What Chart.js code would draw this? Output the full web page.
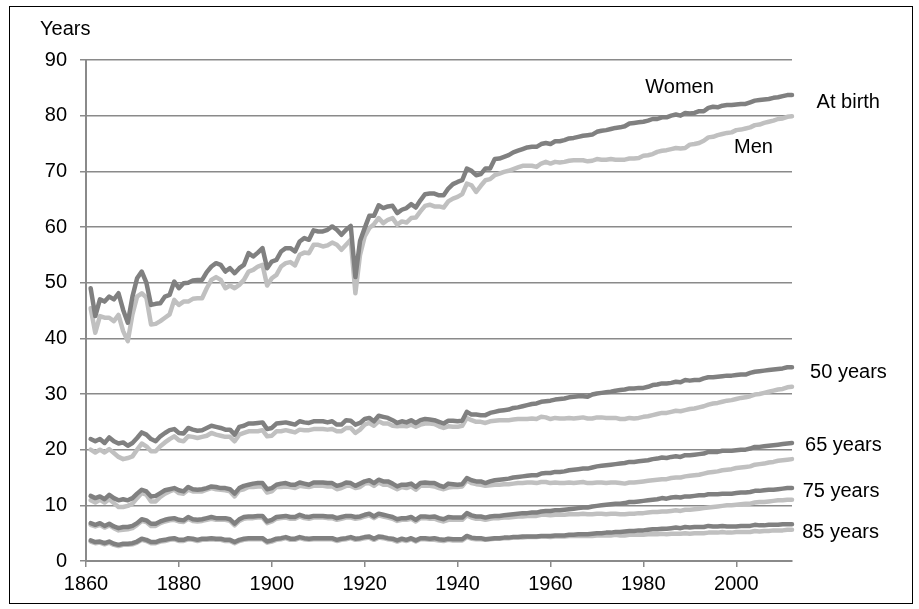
<!DOCTYPE html>
<html>
<head>
<meta charset="utf-8">
<script src="https://cdn.jsdelivr.net/npm/chart.js@4.4.1/dist/chart.umd.min.js"></script>
<style>
  html, body { margin: 0; padding: 0; background: #fff; }
  #wrap { width: 919px; height: 609px; }
</style>
</head>
<body>
<div id="wrap"><canvas id="myChart" width="919" height="609"></canvas></div>
<script>
// life expectancy by age, women / men, 1861-2012

const firstYear = 1861;

const womenBirth = [
  49.0, 44.0, 47.0, 46.6, 47.5, 47.0, 48.1, 45.1, 42.8, 47.5,
  50.8, 52.0, 50.0, 46.0, 46.2, 46.3, 47.5, 47.8, 50.2, 49.0,
  49.9, 50.0, 50.4, 50.5, 50.5, 51.9, 52.9, 53.5, 53.2, 52.0,
  52.6, 51.7, 52.6, 53.2, 55.3, 54.7, 55.4, 56.2, 52.6, 53.8,
  54.1, 55.6, 56.2, 56.2, 55.6, 57.4, 58.0, 57.7, 59.4, 59.2,
  59.2, 59.5, 60.1, 59.5, 58.6, 59.5, 60.2, 51.0, 57.5, 59.8,
  62.0, 62.0, 63.9, 63.4, 63.7, 63.8, 62.5, 63.1, 63.4, 64.1,
  63.5, 64.8, 65.9, 66.0, 66.0, 65.7, 65.7, 66.9, 67.7, 68.1,
  68.4, 70.5, 70.1, 69.3, 69.5, 70.5, 70.5, 72.2, 72.3, 72.6,
  72.9, 73.4, 73.7, 74.0, 74.3, 74.4, 74.4, 74.9, 75.1, 74.9,
  75.4, 75.4, 75.6, 75.9, 76.0, 76.2, 76.4, 76.5, 76.6, 77.1,
  77.3, 77.4, 77.6, 77.8, 77.9, 78.1, 78.6, 78.7, 78.8, 78.9,
  79.1, 79.4, 79.4, 79.7, 79.7, 80.0, 80.2, 80.0, 80.5, 80.4,
  80.5, 80.8, 80.8, 81.4, 81.6, 81.5, 81.8, 81.9, 81.9, 82.0,
  82.1, 82.1, 82.4, 82.7, 82.8, 82.9, 83.0, 83.2, 83.3, 83.5,
  83.7, 83.7
];
const menBirth = [
  45.4, 41.0, 44.0, 43.7, 43.7, 43.1, 44.2, 41.3, 39.5, 44.3,
  47.5, 48.1, 47.3, 42.5, 42.6, 43.1, 43.7, 44.3, 46.9, 46.0,
  46.6, 46.6, 47.1, 47.2, 47.2, 49.0, 50.5, 51.0, 50.5, 49.0,
  49.5, 49.0, 49.6, 50.5, 52.0, 52.3, 52.9, 53.2, 49.5, 50.8,
  51.4, 52.9, 53.5, 53.7, 53.1, 55.0, 55.4, 55.3, 56.8, 56.8,
  56.5, 56.7, 57.2, 56.8, 55.9, 56.8, 57.7, 48.1, 55.0, 58.3,
  59.8, 60.5, 61.6, 60.7, 61.3, 61.6, 60.4, 61.0, 60.8, 61.6,
  61.7, 62.8, 63.8, 64.0, 63.7, 63.7, 63.5, 64.6, 65.1, 65.4,
  65.9, 67.8, 67.5, 66.3, 67.4, 68.4, 68.6, 69.3, 69.6, 69.9,
  70.1, 70.4, 70.7, 71.0, 71.0, 71.0, 70.8, 71.4, 71.7, 71.4,
  71.7, 71.6, 71.7, 71.9, 72.0, 72.0, 72.0, 71.8, 71.9, 72.2,
  72.1, 72.1, 72.2, 72.1, 72.1, 72.1, 72.3, 72.3, 72.4, 72.8,
  72.9, 73.1, 73.5, 73.7, 73.8, 74.0, 74.2, 74.1, 74.2, 74.8,
  74.9, 75.1, 75.5, 76.1, 76.2, 76.5, 76.7, 76.9, 77.0, 77.4,
  77.5, 77.7, 77.9, 78.3, 78.4, 78.7, 78.9, 79.1, 79.4, 79.5,
  79.8, 79.9
];
const women50 = [
  21.9, 21.5, 21.9, 21.2, 22.2, 21.5, 21.1, 21.3, 20.7, 21.2,
  22.1, 23.1, 22.7, 21.9, 21.5, 22.4, 23.0, 23.5, 23.7, 23.0,
  22.9, 23.9, 23.6, 23.4, 23.5, 23.9, 24.3, 24.1, 23.9, 23.6,
  23.6, 22.7, 24.1, 24.3, 24.7, 24.7, 24.8, 24.9, 23.7, 23.9,
  24.7, 24.8, 24.9, 24.7, 24.5, 25.1, 24.9, 24.8, 25.1, 25.1,
  25.1, 24.9, 25.1, 24.5, 24.5, 25.3, 25.2, 24.5, 24.8, 25.5,
  25.7, 25.1, 26.1, 25.9, 25.7, 25.3, 24.8, 25.1, 24.9, 25.3,
  24.8, 25.3, 25.5, 25.4, 25.3, 25.0, 24.7, 25.2, 25.2, 25.1,
  25.2, 26.8, 26.3, 26.3, 26.2, 26.2, 26.6, 26.8, 27.0, 27.1,
  27.2, 27.5, 27.6, 27.8, 28.0, 28.2, 28.3, 28.6, 28.7, 28.8,
  29.0, 29.1, 29.2, 29.4, 29.5, 29.6, 29.6, 29.5, 29.9, 30.1,
  30.2, 30.3, 30.4, 30.6, 30.7, 30.8, 31.0, 31.0, 31.1, 31.1,
  31.3, 31.6, 31.7, 31.9, 31.9, 32.0, 32.2, 32.1, 32.5, 32.4,
  32.5, 32.5, 32.8, 33.0, 33.0, 33.1, 33.2, 33.3, 33.3, 33.4,
  33.5, 33.5, 33.8, 34.0, 34.1, 34.2, 34.3, 34.4, 34.5, 34.6,
  34.8, 34.8
];
const men50 = [
  20.0, 19.5, 20.0, 19.5, 20.1, 19.4, 18.7, 18.3, 18.5, 18.8,
  20.0, 21.1, 20.6, 19.7, 19.7, 20.6, 21.3, 21.9, 22.4, 21.7,
  21.5, 22.4, 22.3, 22.1, 22.3, 22.5, 23.0, 22.7, 22.5, 22.3,
  22.3, 21.5, 22.7, 23.0, 23.3, 23.3, 23.3, 23.5, 22.4, 22.5,
  23.3, 23.3, 23.5, 23.3, 23.1, 23.6, 23.5, 23.5, 23.7, 23.7,
  23.7, 23.6, 23.7, 23.3, 23.3, 23.9, 23.9, 23.0, 23.6, 24.5,
  24.8, 24.3, 25.1, 24.7, 24.7, 24.3, 24.2, 24.3, 24.2, 24.5,
  24.1, 24.5, 24.7, 24.7, 24.6, 24.2, 23.9, 24.2, 24.1, 24.1,
  24.3, 25.7, 25.3, 25.0, 25.0, 24.8, 25.1, 25.2, 25.3, 25.3,
  25.3, 25.4, 25.5, 25.5, 25.5, 25.6, 25.5, 25.9, 25.8, 25.5,
  25.7, 25.6, 25.6, 25.7, 25.6, 25.7, 25.8, 25.6, 25.6, 25.8,
  25.8, 25.7, 25.7, 25.7, 25.5, 25.5, 25.7, 25.6, 25.7, 25.9,
  26.0, 26.2, 26.4, 26.6, 26.6, 26.8, 27.0, 26.9, 27.1, 27.3,
  27.4, 27.6, 27.8, 28.1, 28.3, 28.4, 28.6, 28.8, 28.9, 29.1,
  29.3, 29.4, 29.6, 29.9, 30.0, 30.2, 30.4, 30.6, 30.8, 30.9,
  31.2, 31.3
];
const women65 = [
  11.7, 11.3, 11.6, 11.1, 11.9, 11.3, 10.9, 11.1, 10.9, 11.3,
  12.1, 12.8, 12.5, 11.6, 11.7, 12.2, 12.7, 12.9, 13.1, 12.7,
  12.5, 13.3, 12.9, 12.8, 12.9, 13.1, 13.4, 13.3, 13.1, 13.1,
  12.9, 12.1, 13.1, 13.5, 13.7, 13.9, 14.0, 14.0, 12.9, 13.1,
  13.7, 13.9, 14.0, 13.7, 13.7, 14.1, 13.9, 13.7, 14.1, 14.1,
  14.1, 14.0, 14.0, 13.5, 13.7, 14.1, 14.0, 13.5, 13.9, 14.3,
  14.5, 14.0, 14.6, 14.3, 14.3, 13.9, 13.4, 13.7, 13.7, 13.9,
  13.3, 14.0, 14.1, 14.0, 14.0, 13.6, 13.3, 13.9, 13.8, 13.7,
  13.8, 14.9, 14.5, 14.3, 14.3, 14.0, 14.3, 14.5, 14.6, 14.7,
  14.8, 15.0, 15.1, 15.2, 15.3, 15.4, 15.4, 15.7, 15.8, 15.8,
  16.0, 16.0, 16.1, 16.3, 16.4, 16.5, 16.6, 16.6, 16.8, 17.0,
  17.1, 17.2, 17.3, 17.4, 17.5, 17.6, 17.8, 17.8, 17.9, 18.0,
  18.1, 18.3, 18.4, 18.6, 18.5, 18.7, 18.8, 18.7, 19.0, 19.0,
  19.1, 19.2, 19.3, 19.6, 19.6, 19.6, 19.8, 19.8, 19.8, 19.9,
  20.0, 20.0, 20.2, 20.5, 20.5, 20.6, 20.7, 20.8, 20.9, 21.0,
  21.1, 21.2
];
const men65 = [
  10.9, 10.5, 11.0, 10.5, 11.1, 10.4, 9.7, 9.7, 9.9, 10.3,
  11.3, 12.2, 11.9, 10.7, 10.7, 11.5, 12.1, 12.5, 12.8, 12.2,
  12.1, 12.8, 12.5, 12.5, 12.5, 12.8, 13.1, 12.9, 12.8, 12.7,
  12.5, 11.6, 12.7, 12.9, 13.3, 13.3, 13.4, 13.4, 12.3, 12.5,
  13.3, 13.3, 13.4, 13.3, 13.1, 13.5, 13.4, 13.3, 13.5, 13.5,
  13.5, 13.4, 13.4, 12.9, 13.1, 13.5, 13.5, 13.1, 13.3, 13.9,
  14.0, 13.5, 14.1, 13.7, 13.7, 13.3, 12.9, 13.3, 13.1, 13.4,
  12.8, 13.5, 13.5, 13.5, 13.4, 13.1, 12.9, 13.2, 13.3, 13.3,
  13.4, 14.5, 14.0, 13.8, 13.7, 13.5, 13.6, 13.7, 13.7, 13.8,
  13.8, 13.9, 14.0, 14.0, 14.1, 14.1, 14.0, 14.2, 14.2, 14.0,
  14.1, 14.0, 14.0, 14.1, 14.0, 14.1, 14.2, 14.0, 14.0, 14.1,
  14.1, 14.0, 14.1, 14.1, 14.0, 13.9, 14.1, 14.1, 14.2, 14.3,
  14.4, 14.5, 14.6, 14.7, 14.7, 14.9, 15.0, 15.0, 15.2, 15.3,
  15.4, 15.5, 15.7, 15.9, 16.0, 16.1, 16.3, 16.4, 16.5, 16.7,
  16.8, 16.9, 17.0, 17.3, 17.4, 17.5, 17.7, 17.8, 18.0, 18.1,
  18.2, 18.3
];
const women75 = [
  6.8, 6.5, 6.8, 6.3, 6.7, 6.2, 5.9, 6.1, 6.1, 6.3,
  6.8, 7.5, 7.3, 6.7, 6.7, 7.1, 7.4, 7.6, 7.7, 7.4,
  7.3, 7.9, 7.5, 7.4, 7.5, 7.7, 7.9, 7.7, 7.7, 7.7,
  7.5, 6.7, 7.5, 7.9, 8.0, 8.0, 8.1, 8.1, 7.1, 7.4,
  7.9, 8.0, 8.1, 7.9, 7.9, 8.3, 8.0, 7.9, 8.1, 8.1,
  8.1, 8.0, 8.0, 7.7, 7.9, 8.1, 8.1, 7.9, 8.0, 8.3,
  8.5, 8.0, 8.5, 8.3, 8.1, 7.9, 7.5, 7.7, 7.7, 7.9,
  7.4, 8.0, 8.0, 7.9, 8.0, 7.7, 7.5, 7.9, 7.8, 7.8,
  7.8, 8.6, 8.2, 8.0, 8.0, 7.8, 8.0, 8.1, 8.1, 8.2,
  8.3, 8.4, 8.5, 8.6, 8.6, 8.7, 8.7, 8.9, 9.0, 9.0,
  9.1, 9.1, 9.2, 9.3, 9.4, 9.5, 9.6, 9.6, 9.8, 9.9,
  10.0, 10.1, 10.2, 10.3, 10.3, 10.4, 10.6, 10.6, 10.7, 10.8,
  10.9, 11.0, 11.1, 11.3, 11.2, 11.4, 11.5, 11.4, 11.6, 11.6,
  11.7, 11.8, 11.8, 12.0, 12.0, 12.0, 12.1, 12.1, 12.1, 12.2,
  12.3, 12.3, 12.4, 12.6, 12.6, 12.7, 12.8, 12.8, 12.9, 13.0,
  13.1, 13.1
];
const men75 = [
  6.5, 6.2, 6.5, 6.0, 6.4, 5.9, 5.5, 5.6, 5.7, 5.9,
  6.5, 7.2, 7.0, 6.3, 6.3, 6.8, 7.1, 7.3, 7.4, 7.1,
  7.0, 7.6, 7.2, 7.1, 7.2, 7.4, 7.6, 7.4, 7.4, 7.4,
  7.2, 6.4, 7.2, 7.6, 7.7, 7.7, 7.8, 7.8, 6.8, 7.1,
  7.6, 7.7, 7.8, 7.6, 7.6, 8.0, 7.7, 7.6, 7.8, 7.8,
  7.8, 7.7, 7.7, 7.4, 7.6, 7.8, 7.8, 7.6, 7.7, 8.0,
  8.2, 7.7, 8.2, 8.0, 7.8, 7.6, 7.2, 7.4, 7.4, 7.6,
  7.1, 7.7, 7.7, 7.6, 7.6, 7.3, 7.1, 7.4, 7.4, 7.4,
  7.4, 8.2, 7.8, 7.6, 7.6, 7.4, 7.6, 7.7, 7.7, 7.8,
  7.8, 7.9, 8.0, 8.0, 8.1, 8.1, 8.1, 8.3, 8.3, 8.2,
  8.3, 8.3, 8.3, 8.4, 8.4, 8.4, 8.5, 8.4, 8.4, 8.5,
  8.5, 8.4, 8.5, 8.5, 8.4, 8.4, 8.5, 8.5, 8.6, 8.6,
  8.7, 8.8, 8.8, 8.9, 8.9, 9.0, 9.1, 9.0, 9.2, 9.2,
  9.3, 9.4, 9.5, 9.6, 9.7, 9.8, 9.9, 10.0, 10.0, 10.1,
  10.2, 10.3, 10.3, 10.5, 10.6, 10.6, 10.7, 10.8, 10.9, 10.9,
  11.0, 11.0
];
const women85 = [
  3.7, 3.4, 3.5, 3.2, 3.5, 3.1, 2.9, 3.1, 3.1, 3.2,
  3.5, 4.0, 3.8, 3.4, 3.4, 3.7, 3.8, 4.0, 4.1, 3.8,
  3.8, 4.1, 4.0, 3.8, 4.0, 4.0, 4.1, 4.0, 4.0, 3.8,
  3.8, 3.4, 3.8, 4.0, 4.1, 4.1, 4.1, 4.1, 3.5, 3.7,
  4.0, 4.1, 4.3, 4.0, 4.0, 4.3, 4.1, 4.0, 4.1, 4.1,
  4.1, 4.1, 4.1, 3.8, 4.0, 4.1, 4.3, 4.0, 4.1, 4.3,
  4.4, 4.0, 4.4, 4.3, 4.1, 4.0, 3.7, 4.0, 3.8, 4.1,
  3.7, 4.1, 4.1, 4.0, 4.1, 3.9, 3.8, 4.0, 3.9, 3.9,
  3.9, 4.5, 4.2, 4.1, 4.1, 3.9, 4.0, 4.1, 4.1, 4.2,
  4.2, 4.3, 4.3, 4.4, 4.4, 4.4, 4.4, 4.5, 4.5, 4.5,
  4.6, 4.6, 4.6, 4.7, 4.7, 4.8, 4.8, 4.8, 4.9, 5.0,
  5.0, 5.1, 5.1, 5.2, 5.2, 5.3, 5.4, 5.4, 5.5, 5.5,
  5.6, 5.7, 5.7, 5.8, 5.8, 5.9, 6.0, 5.9, 6.1, 6.0,
  6.1, 6.1, 6.1, 6.3, 6.2, 6.2, 6.3, 6.2, 6.2, 6.2,
  6.3, 6.3, 6.3, 6.5, 6.4, 6.4, 6.5, 6.5, 6.5, 6.6,
  6.6, 6.6
];
const men85 = [
  3.5, 3.2, 3.3, 3.0, 3.3, 2.9, 2.7, 2.9, 2.9, 3.0,
  3.3, 3.8, 3.6, 3.2, 3.2, 3.5, 3.6, 3.8, 3.9, 3.6,
  3.6, 3.9, 3.8, 3.6, 3.8, 3.8, 3.9, 3.8, 3.8, 3.6,
  3.6, 3.2, 3.6, 3.8, 3.9, 3.9, 3.9, 3.9, 3.3, 3.5,
  3.8, 3.9, 4.1, 3.8, 3.8, 4.1, 3.9, 3.8, 3.9, 3.9,
  3.9, 3.9, 3.9, 3.6, 3.8, 3.9, 4.1, 3.8, 3.9, 4.1,
  4.2, 3.8, 4.2, 4.1, 3.9, 3.8, 3.5, 3.8, 3.6, 3.9,
  3.5, 3.9, 3.9, 3.8, 3.8, 3.7, 3.6, 3.8, 3.7, 3.7,
  3.7, 4.3, 4.0, 3.9, 3.9, 3.8, 3.9, 4.0, 4.0, 4.1,
  4.1, 4.2, 4.2, 4.2, 4.3, 4.3, 4.3, 4.4, 4.4, 4.3,
  4.4, 4.4, 4.4, 4.5, 4.5, 4.5, 4.5, 4.5, 4.5, 4.6,
  4.6, 4.6, 4.6, 4.7, 4.6, 4.6, 4.7, 4.7, 4.7, 4.7,
  4.8, 4.8, 4.8, 4.9, 4.8, 4.9, 4.9, 4.9, 5.0, 4.9,
  5.0, 5.0, 5.0, 5.1, 5.1, 5.1, 5.2, 5.1, 5.1, 5.2,
  5.2, 5.2, 5.2, 5.4, 5.3, 5.4, 5.4, 5.5, 5.5, 5.5,
  5.6, 5.6
];

// x axis ticks every 20 years
const xTicks = [1860, 1880, 1900, 1920, 1940, 1960, 1980, 2000];
const yTicks = [0, 10, 20, 30, 40, 50, 60, 70, 80, 90];

const years = womenBirth.map((v, i) => firstYear + i);

const WOMEN = '#808080';
const MEN = '#c0c0c0';
const FONT = '"Liberation Sans", Arial, sans-serif';

function toXY(arr) {
  return arr.map((v, i) => ({ x: years[i], y: v }));
}

function line(label, arr, color) {
  return {
    label: label,
    data: toXY(arr),
    borderColor: color,
    borderWidth: 4.5,
    pointRadius: 0,
    borderJoinStyle: 'round',
    borderCapStyle: 'round',
    tension: 0,
    clip: false
  };
}

// text on the chart (series names), placed in data units
const textLabels = [
  { text: 'Women', x: 1987.8, y: 85.0, align: 'center' },
  { text: 'Men', x: 2003.7, y: 74.3, align: 'center' },
  { text: 'At birth', x: 2017.3, y: 82.4, align: 'left' },
  { text: '50 years', x: 2015.9, y: 33.8, align: 'left' },
  { text: '65 years', x: 2014.8, y: 20.7, align: 'left' },
  { text: '75 years', x: 2014.3, y: 12.4, align: 'left' },
  { text: '85 years', x: 2014.2, y: 5.1, align: 'left' }
];

const labelPlugin = {
  id: 'labelPlugin',
  afterDraw(chart) {
    const ctx = chart.ctx;
    const xs = chart.scales.x, ys = chart.scales.y;
    ctx.save();
    ctx.fillStyle = '#000';
    ctx.font = '20px ' + FONT;
    ctx.textBaseline = 'middle';
    textLabels.forEach(l => {
      ctx.textAlign = l.align;
      ctx.fillText(l.text, xs.getPixelForValue(l.x), ys.getPixelForValue(l.y));
    });
    // axis title
    ctx.textAlign = 'left';
    ctx.fillText('Years', 40, 29);
    // outer frame
    ctx.strokeStyle = '#000';
    ctx.lineWidth = 1;
    ctx.strokeRect(9.5, 6.5, 903, 597);
    ctx.restore();
  }
};

const chartCtx = document.getElementById('myChart');

new Chart(chartCtx, {
  type: 'line',
  data: {
    datasets: [
      // women first so they are drawn on top
      line('Women at birth', womenBirth, WOMEN),
      line('Women 50', women50, WOMEN),
      line('Women 65', women65, WOMEN),
      line('Women 75', women75, WOMEN),
      line('Women 85', women85, WOMEN),
      line('Men at birth', menBirth, MEN),
      line('Men 50', men50, MEN),
      line('Men 65', men65, MEN),
      line('Men 75', men75, MEN),
      line('Men 85', men85, MEN)
    ]
  },
  options: {
    responsive: false,
    animation: false,
    devicePixelRatio: 1,
    layout: { padding: { left: 0, right: 127, top: 60, bottom: 0 } },
    plugins: {
      legend: { display: false },
      tooltip: { enabled: false }
    },
    scales: {
      x: {
        type: 'linear',
        min: 1860,
        max: 2012,
        afterBuildTicks: (s) => { s.ticks = xTicks.map(v => ({ value: v })); },
        afterFit: (s) => { s.height = 48; },
        ticks: {
          color: '#000',
          font: { family: FONT, size: 20 },
          padding: 5,
          maxRotation: 0,
          callback: (v) => String(v)
        },
        grid: {
          drawOnChartArea: false,
          drawTicks: true,
          tickLength: 6,
          color: '#8a8a8a',
          lineWidth: 1.5
        },
        border: { color: '#8a8a8a', width: 2 }
      },
      y: {
        min: 0,
        max: 90,
        afterBuildTicks: (s) => { s.ticks = yTicks.map(v => ({ value: v })); },
        afterFit: (s) => { s.width = 86; },
        ticks: {
          color: '#000',
          font: { family: FONT, size: 20 },
          padding: 13,
          callback: (v) => String(v)
        },
        grid: {
          drawTicks: true,
          tickLength: 6,
          color: '#8a8a8a',
          lineWidth: 1.5
        },
        border: { color: '#8a8a8a', width: 2 }
      }
    }
  },
  plugins: [labelPlugin]
});
</script>
</body>
</html>
